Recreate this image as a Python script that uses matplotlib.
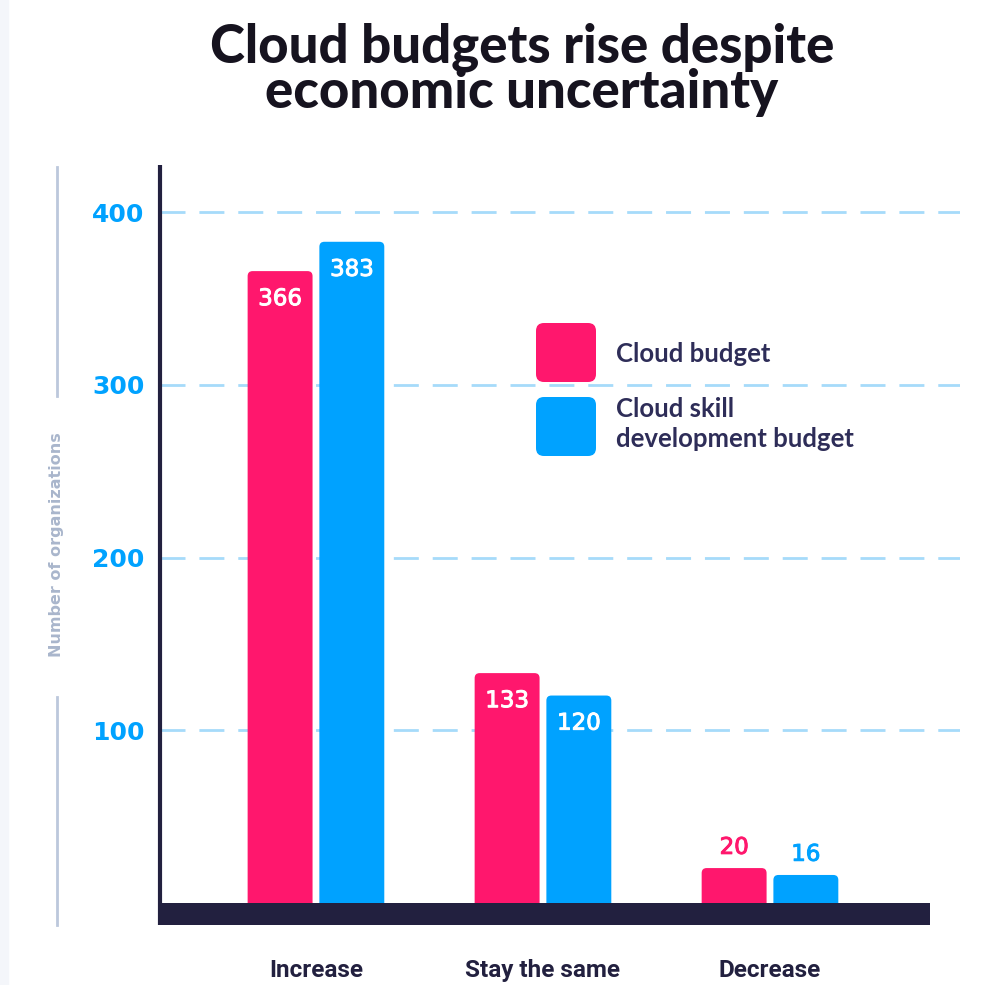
import numpy as np
import matplotlib
matplotlib.use("Agg")
import matplotlib.pyplot as plt
import matplotlib.patheffects as pe
from matplotlib.patches import FancyBboxPatch, Rectangle

# data
categories = ["Increase", "Stay the same", "Decrease"]
cloud_budget = [366, 133, 20]
skill_budget = [383, 120, 16]
yticks = [100, 200, 300, 400]

PINK = "#FF176D"
BLUE = "#00A2FF"
NAVY = "#22203F"
GRID = "#A6DBFA"
TEXT = "#2E2D58"
LATO = ["Lato", "DejaVu Sans"]
DEJAVU = ["DejaVu Sans"]

W, H = 989, 985
fig = plt.figure(figsize=(W / 100, H / 100), dpi=100)
fig.patch.set_facecolor("white")
# faint strip on the left edge
fig.patches.append(Rectangle((0, 0), 8 / W, 1, transform=fig.transFigure,
                             color="#F4F6FA", zorder=0))


def fx(px):
    return px / W


def fy(py):
    return 1 - py / H


ax = fig.add_axes([fx(160), 60 / H, 800 / W, 760 / H])
ax.set_xlim(-0.687, 2.837)
ax.set_ylim(-13, 427.5)
for s in ax.spines.values():
    s.set_visible(False)
ax.set_xticks([])
ax.set_yticks(yticks)
ax.set_yticklabels([str(t) for t in yticks], color=BLUE, fontsize=18,
                   fontweight="bold", family=DEJAVU)
ax.tick_params(axis="y", length=0, pad=11)

for t in yticks:
    ax.axhline(t, color=GRID, lw=2, ls=(0, (9, 5)), zorder=1)

# vertical axis line
ax.plot([-0.687, -0.687], [-13, 427.5], color=NAVY, lw=3, zorder=4,
        solid_capstyle="butt", clip_on=False)

x = np.arange(len(categories))
w = 0.286
off = 0.158
px_x = 227.0           # pixels per x unit
px_y = 1.725           # pixels per y unit
aspect = px_x / px_y


def round_bars(container, color):
    for p in container.patches:
        bx, by = p.get_x(), p.get_y()
        bw, bh = p.get_width(), p.get_height()
        p.remove()
        fb = FancyBboxPatch((bx, by - 10), bw, bh + 10,
                            boxstyle="round,pad=0,rounding_size=%f" % (5 / px_x),
                            mutation_aspect=aspect, fc=color, ec="none", zorder=2)
        ax.add_patch(fb)


b1 = ax.bar(x - off, cloud_budget, w, color=PINK)
b2 = ax.bar(x + off, skill_budget, w, color=BLUE)
round_bars(b1, PINK)
round_bars(b2, BLUE)

# base bar
ax.add_patch(Rectangle((-0.687, -13), 2.705 + 0.687, 13, fc=NAVY, ec="none",
                       zorder=3, clip_on=False))

for xs, vals, col in [(x - off, cloud_budget, PINK), (x + off, skill_budget, BLUE)]:
    for xi, v in zip(xs, vals):
        inside = v > 50
        ax.text(xi, v - 16 if inside else v + 12, str(v), ha="center", va="center",
                color="white" if inside else col, fontsize=16.5, family=DEJAVU,
                zorder=5,
                path_effects=[pe.withStroke(linewidth=0.7,
                                            foreground="white" if inside else col)])

for xi, c in zip(x, categories):
    ax.text(xi, (902.5 - 977) / px_y, c, ha="center", va="baseline", color=NAVY,
            fontsize=17.5, fontweight="bold", family=["Roboto", "DejaVu Sans"])

# legend
for y0, col in [(323, PINK), (397, BLUE)]:
    fig.patches.append(FancyBboxPatch((fx(536), fy(y0 + 59)), 60 / W, 59 / H,
                                      boxstyle="round,pad=0,rounding_size=0.008",
                                      transform=fig.transFigure, fc=col, ec="none",
                                      zorder=5))
for txt, base in [("Cloud budget", 362), ("Cloud skill", 417),
                  ("development budget", 447)]:
    fig.text(fx(616), fy(base), txt, color=TEXT, fontsize=18.5,
             fontweight="bold", family=LATO, va="baseline")

# y label with guide lines
fig.text(fx(57), fy(545), "Number of organizations", rotation=90,
         color="#A9B6CC", fontsize=11.5, fontweight="bold", family=DEJAVU,
         ha="center", va="center")
fig.add_artist(plt.Line2D([fx(57), fx(57)], [fy(167), fy(396)],
                          color="#BCC8DC", lw=2))
fig.add_artist(plt.Line2D([fx(57), fx(57)], [fy(697), fy(925)],
                          color="#BCC8DC", lw=2))

# title
for txt, base in [("Cloud budgets rise despite", 62), ("economic uncertainty", 108)]:
    fig.text(fx(522), fy(base), txt, ha="center", va="baseline", color="#16131F",
             fontsize=38, fontweight="black", family=LATO)

fig.savefig("out.png", dpi=100)
